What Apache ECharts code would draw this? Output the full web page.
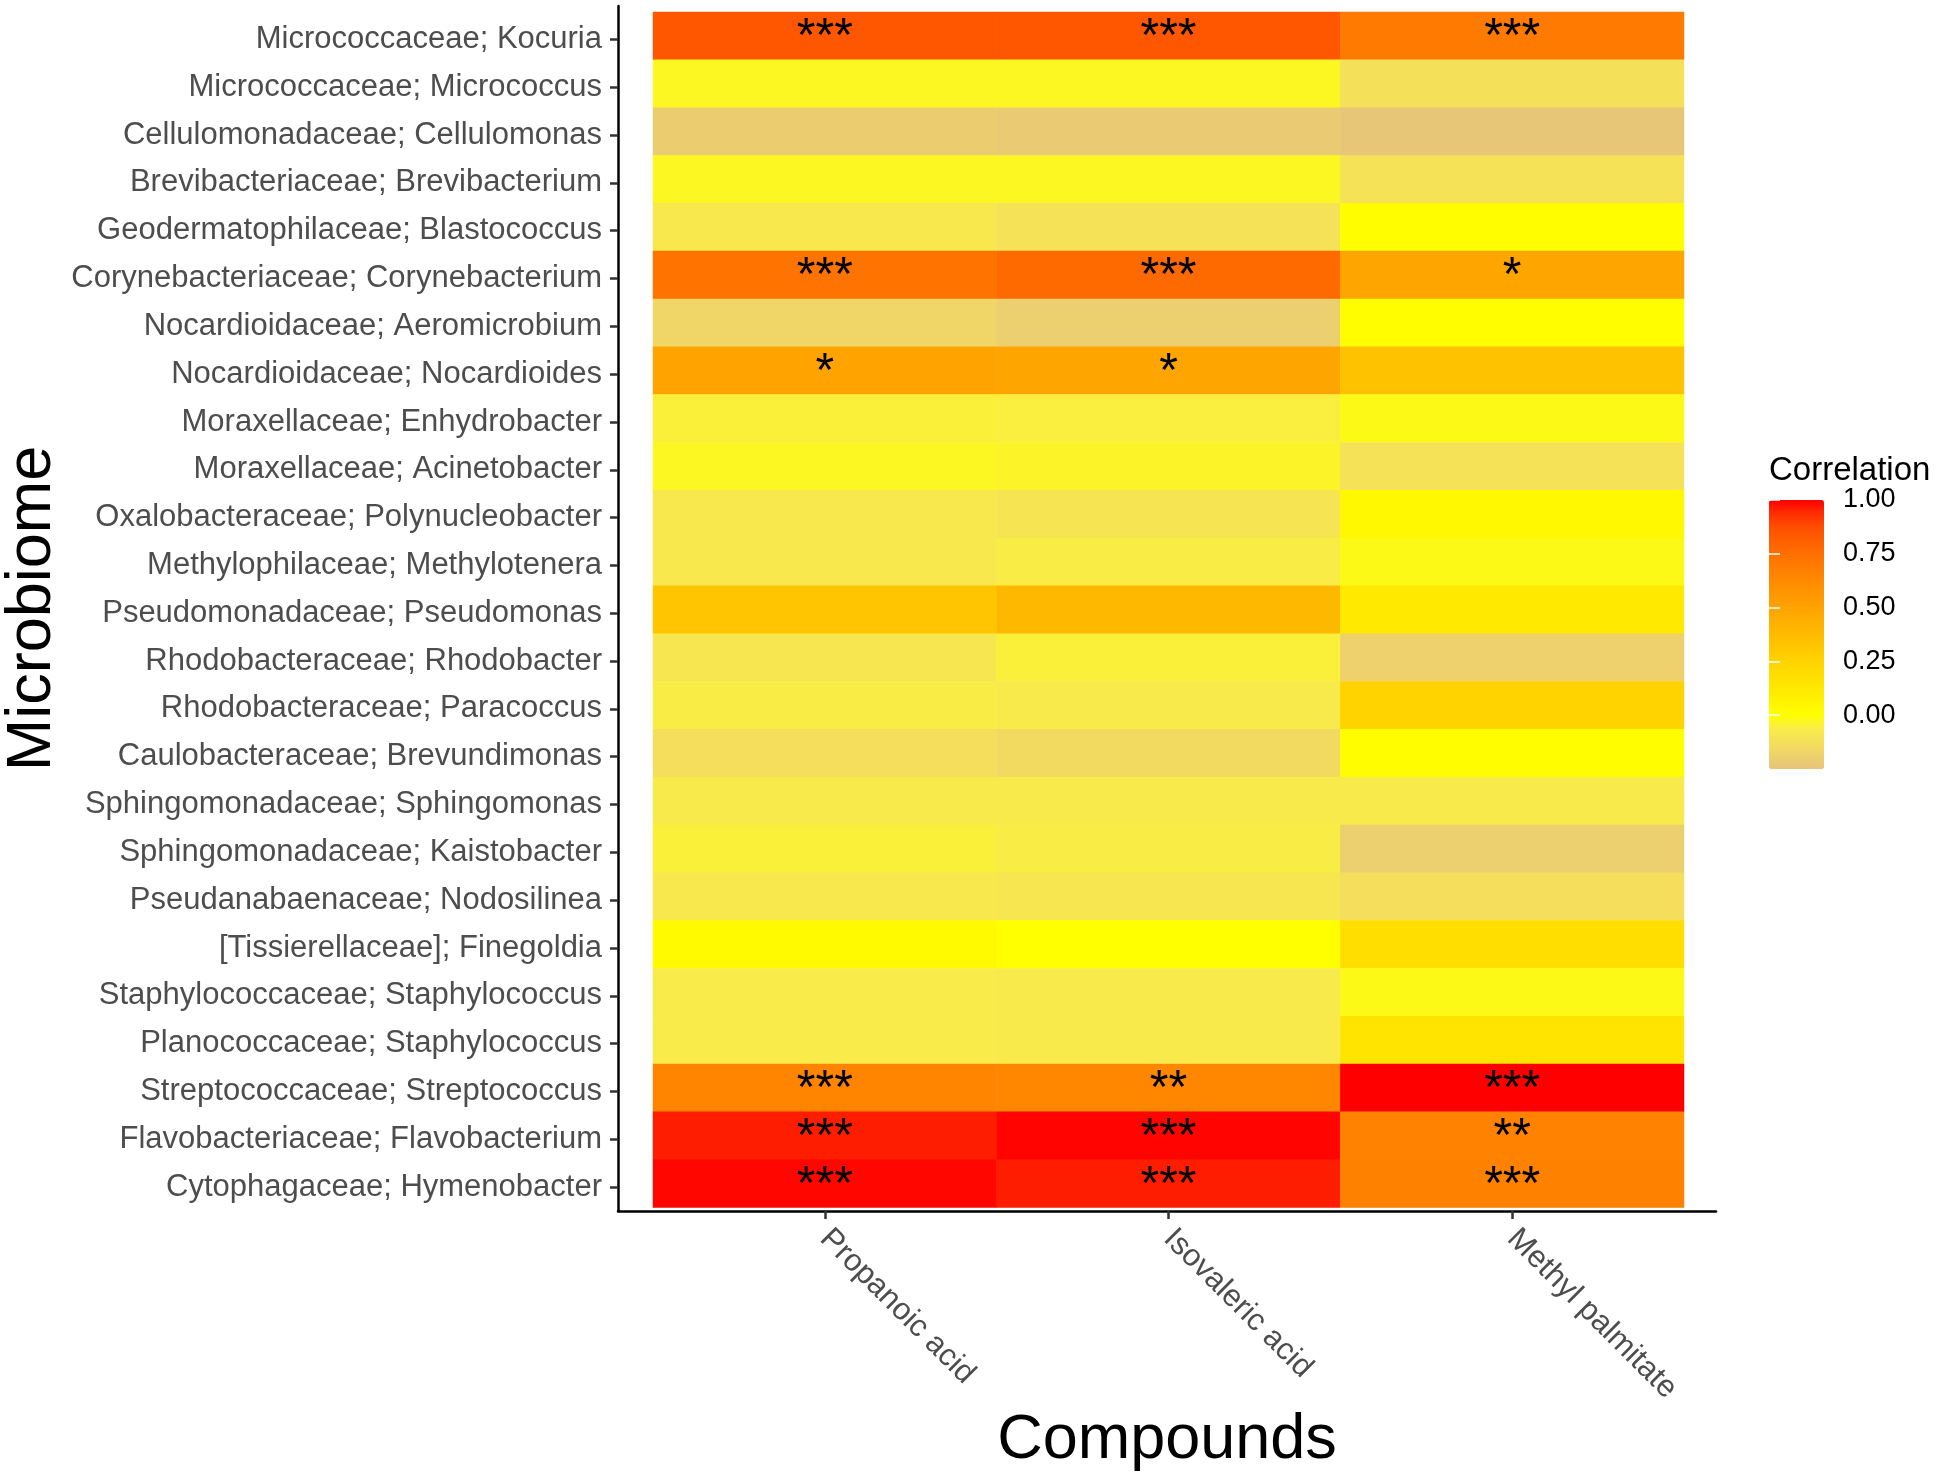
<!DOCTYPE html>
<html>
<head>
<meta charset="utf-8">
<script src="https://cdn.jsdelivr.net/npm/echarts@6/dist/echarts.min.js"></script>
<style>
html,body{margin:0;padding:0;background:#fff;}
#chart{width:1936px;height:1476px;}
</style>
</head>
<body>
<div id="chart"></div>
<script>
const compounds = ['Propanoic acid', 'Isovaleric acid', 'Methyl palmitate'];
const taxa = [
  'Micrococcaceae; Kocuria',
  'Micrococcaceae; Micrococcus',
  'Cellulomonadaceae; Cellulomonas',
  'Brevibacteriaceae; Brevibacterium',
  'Geodermatophilaceae; Blastococcus',
  'Corynebacteriaceae; Corynebacterium',
  'Nocardioidaceae; Aeromicrobium',
  'Nocardioidaceae; Nocardioides',
  'Moraxellaceae; Enhydrobacter',
  'Moraxellaceae; Acinetobacter',
  'Oxalobacteraceae; Polynucleobacter',
  'Methylophilaceae; Methylotenera',
  'Pseudomonadaceae; Pseudomonas',
  'Rhodobacteraceae; Rhodobacter',
  'Rhodobacteraceae; Paracoccus',
  'Caulobacteraceae; Brevundimonas',
  'Sphingomonadaceae; Sphingomonas',
  'Sphingomonadaceae; Kaistobacter',
  'Pseudanabaenaceae; Nodosilinea',
  '[Tissierellaceae]; Finegoldia',
  'Staphylococcaceae; Staphylococcus',
  'Planococcaceae; Staphylococcus',
  'Streptococcaceae; Streptococcus',
  'Flavobacteriaceae; Flavobacterium',
  'Cytophagaceae; Hymenobacter'
];
const propanoic = [0.84, -0.03, -0.21, -0.03, -0.08, 0.73, -0.17, 0.50, -0.05, -0.03, -0.08, -0.08, 0.32, -0.09, -0.06, -0.13, -0.07, -0.05, -0.08, 0.03, -0.065, -0.065, 0.65, 0.96, 0.99];
const isovaleric = [0.84, -0.03, -0.22, -0.03, -0.11, 0.77, -0.20, 0.49, -0.055, -0.035, -0.10, -0.06, 0.39, -0.05, -0.07, -0.15, -0.07, -0.06, -0.09, 0.0, -0.07, -0.07, 0.64, 0.995, 0.96];
const methylPalmitate = [0.70, -0.12, -0.24, -0.11, 0.01, 0.49, 0.01, 0.34, -0.02, -0.11, 0.04, -0.02, 0.12, -0.19, 0.25, 0.01, -0.07, -0.20, -0.13, 0.19, -0.02, 0.15, 1.0, 0.66, 0.67];
const starsPropanoic = ['***','','','','','***','','*','','','','','','','','','','','','','','','***','***','***'];
const starsIsovaleric = ['***','','','','','***','','*','','','','','','','','','','','','','','','**','***','***'];
const starsMethyl = ['***','','','','','*','','','','','','','','','','','','','','','','','***','**','***'];
const legendTicks = [0, 0.25, 0.5, 0.75, 1];
const legendMin = -0.25, legendMax = 1;
// evenly spaced colour stops from -0.25 to 1 (step 0.0625)
const colorStops = [
  '#E6C47A','#EED26B','#F4DF5A','#F9EC48','#FFFF00',
  '#FFF400','#FFE800','#FFDE00','#FFD300','#FFC700',
  '#FFBB00','#FFAF00','#FFA300','#FF9700','#FF8A00',
  '#FF7D00','#FF6F00','#FF5F00','#FF4D00','#FF2E00','#FF0000'
];

const seriesValues = [propanoic, isovaleric, methylPalmitate];
const seriesStars = [starsPropanoic, starsIsovaleric, starsMethyl];
const data = [];
seriesValues.forEach((vals, ci) => {
  vals.forEach((v, ti) => data.push([ci, ti, v]));
});

const FONT = 'Liberation Sans, Arial, Helvetica, sans-serif';
const chart = echarts.init(document.getElementById('chart'), null, {renderer: 'canvas'});
chart.setOption({
  backgroundColor: '#ffffff',
  animation: false,
  textStyle: {fontFamily: FONT},
  title: {
    text: 'Correlation', left: 1769, top: 454, padding: 0,
    textStyle: {fontFamily: FONT, fontSize: 33, fontWeight: 'normal', color: '#000'}
  },
  grid: [
    {left: 653, right: 252, top: 12, bottom: 268.5, outerBoundsMode: 'none', containLabel: false},
    {left: 618, width: 1098, top: 6, bottom: 265, outerBoundsMode: 'none', containLabel: false},
    {left: 1769, width: 55, top: 500, height: 269, outerBoundsMode: 'none', containLabel: false},
    {left: 653, right: 252, top: 15.5, bottom: 265, outerBoundsMode: 'none', containLabel: false}
  ],
  xAxis: [
    {
      type: 'category', gridIndex: 0, data: compounds, position: 'bottom', offset: 3.5,
      axisLine: {show: false},
      axisTick: {show: true, alignWithLabel: true, length: 8, lineStyle: {color: '#333', width: 2.5}},
      axisLabel: {rotate: -45, fontSize: 31, color: '#4D4D4D', margin: 23, fontFamily: FONT},
      splitLine: {show: false}
    },
    {
      type: 'category', gridIndex: 1, data: compounds, position: 'bottom',
      name: 'Compounds', nameLocation: 'middle', nameGap: 198,
      nameTextStyle: {fontSize: 63, color: '#000', fontFamily: FONT},
      axisLine: {show: true, lineStyle: {color: '#000', width: 2.5}},
      axisTick: {show: false}, axisLabel: {show: false}, splitLine: {show: false}
    },
    {type: 'value', gridIndex: 2, min: 0, max: 1, show: false},
    {type: 'category', gridIndex: 3, data: compounds, show: false}
  ],
  yAxis: [
    {
      type: 'category', gridIndex: 0, data: taxa, inverse: true, position: 'left',
      axisLine: {show: false}, axisTick: {show: false}, axisLabel: {show: false}, splitLine: {show: false}
    },
    {
      type: 'category', gridIndex: 1, data: taxa, inverse: true, position: 'left',
      name: 'Microbiome', nameLocation: 'middle', nameGap: 554, nameRotate: 90,
      nameTextStyle: {fontSize: 63, color: '#000', fontFamily: FONT},
      axisLine: {show: true, lineStyle: {color: '#000', width: 2.5}},
      axisTick: {show: false}, axisLabel: {show: false}, splitLine: {show: false}
    },
    {
      type: 'value', gridIndex: 2, min: legendMin, max: legendMax, interval: 0.25, position: 'right', z: 10,
      axisLine: {show: false}, splitLine: {show: false},
      axisTick: {show: true, inside: true, length: 11, customValues: legendTicks, lineStyle: {color: '#fff', width: 1.5}},
      axisLabel: {show: true, customValues: legendTicks, margin: 19, fontSize: 27, color: '#000', fontFamily: FONT,
        formatter: v => Number(v).toFixed(2)}
    },
    {
      type: 'value', gridIndex: 2, min: legendMin, max: legendMax, interval: 0.25, position: 'left', z: 10,
      axisLine: {show: false}, splitLine: {show: false},
      axisTick: {show: true, inside: true, length: 11, customValues: legendTicks, lineStyle: {color: '#fff', width: 1.5}},
      axisLabel: {show: false}
    },
    {
      type: 'category', gridIndex: 3, data: taxa, inverse: true, position: 'left', offset: 35,
      axisLine: {show: false},
      axisTick: {show: true, alignWithLabel: true, length: 8, lineStyle: {color: '#333', width: 2.5}},
      axisLabel: {fontSize: 31, color: '#4D4D4D', margin: 16, fontFamily: FONT},
      splitLine: {show: false}
    }
  ],
  visualMap: {
    type: 'continuous', seriesIndex: 0, dimension: 2,
    min: legendMin, max: legendMax, calculable: false, orient: 'vertical',
    left: 1769, top: 500, itemWidth: 55, itemHeight: 269, padding: 0,
    text: null, showLabel: false,
    inRange: {color: colorStops}
  },
  series: [{
    type: 'heatmap', xAxisIndex: 0, yAxisIndex: 0, data: data,
    itemStyle: {borderWidth: 0},
    emphasis: {disabled: true},
    label: {
      show: true, fontSize: 48, color: '#000', fontFamily: FONT, offset: [0, 2],
      formatter: p => seriesStars[p.data[0]][p.data[1]]
    }
  }]
});
</script>
</body>
</html>
